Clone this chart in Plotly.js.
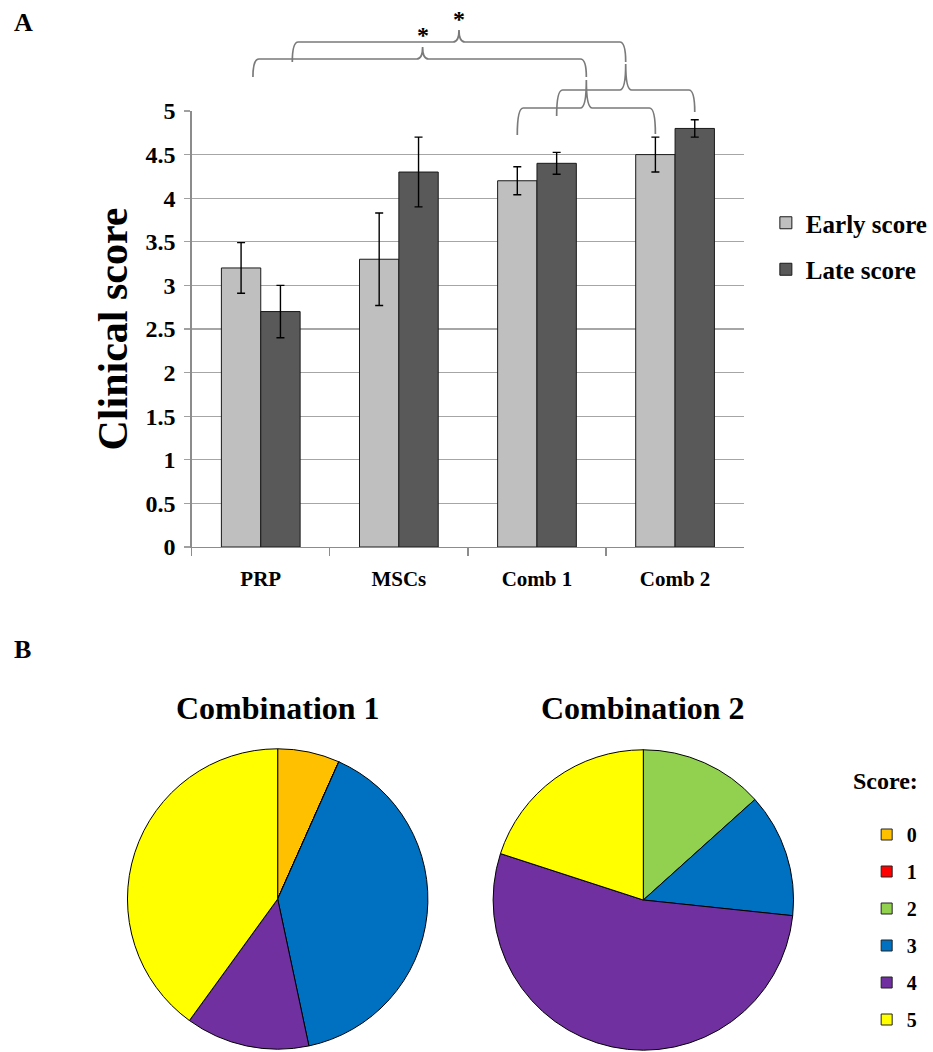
<!DOCTYPE html>
<html>
<head>
<meta charset="utf-8">
<script src="https://cdn.plot.ly/plotly-3.0.1.min.js"></script>
<style>html,body{margin:0;padding:0;background:#fff;}#chart{width:933px;height:1052px;}</style>
</head>
<body>
<div id="chart"></div>
<script>
// ---------- data ----------
const categories = ['PRP', 'MSCs', 'Comb 1', 'Comb 2'];
const earlyScore = [3.2, 3.3, 4.2, 4.5];
const earlyErr   = [0.29, 0.53, 0.16, 0.2];
const lateScore  = [2.7, 4.3, 4.4, 4.8];
const lateErr    = [0.3, 0.4, 0.125, 0.1];
const yTickVals  = [0, 0.5, 1, 1.5, 2, 2.5, 3, 3.5, 4, 4.5, 5];
const yTickText  = ['0', '0.5', '1', '1.5', '2', '2.5', '3', '3.5', '4', '4.5', '5'];
const scoreLabels = ['0', '1', '2', '3', '4', '5'];
const comb1Counts = [1, 0, 0, 6, 2, 6];
const comb2Counts = [0, 0, 2, 2, 8, 3];
const scoreColors = ['#FFC000', '#FF0000', '#92D050', '#0070C0', '#7030A0', '#FFFF00'];
const pieTitles = ['Combination 1', 'Combination 2'];

// ---------- geometry helpers (pixels -> paper) ----------
const W = 933, H = 1052;
const PX = x => x / W;
const PY = y => 1 - y / H;
const plotL = 194, plotR = 753, plotT = 111, plotB = 547;
const catW = (plotR - plotL) / categories.length;
const barW = catW * (1 - 0.43) / 2;
function barCenterPx(cat, series) { return plotL + (cat + 0.5) * catW + (series === 0 ? -barW / 2 : barW / 2); }

const serif = 'Liberation Serif, Times New Roman, serif';
const bold = (size) => ({family: serif, size: size, color: '#000', weight: 'bold'});

// ---------- traces ----------
const traces = [
  {type: 'bar', name: 'Early score', x: categories, y: earlyScore,
   marker: {color: '#BFBFBF', line: {color: '#1a1a1a', width: 1}},
   error_y: {type: 'data', array: earlyErr, visible: true, color: '#000', thickness: 1.4, width: 4},
   legendgroup: 'e'},
  {type: 'bar', name: 'Late score', x: categories, y: lateScore,
   marker: {color: '#595959', line: {color: '#1a1a1a', width: 1}},
   error_y: {type: 'data', array: lateErr, visible: true, color: '#000', thickness: 1.4, width: 4},
   legendgroup: 'l'},
  {type: 'pie', name: pieTitles[0], labels: scoreLabels, values: comb1Counts, sort: false, direction: 'clockwise', rotation: 0,
   marker: {colors: scoreColors, line: {color: '#000', width: 1}}, textinfo: 'none', showlegend: false,
   domain: {x: [PX(129), PX(433)], y: [PY(1051), PY(747)]}},
  {type: 'pie', name: pieTitles[1], labels: scoreLabels, values: comb2Counts, sort: false, direction: 'clockwise', rotation: 0,
   marker: {colors: scoreColors, line: {color: '#000', width: 1}}, textinfo: 'none', showlegend: false,
   domain: {x: [PX(499), PX(803)], y: [PY(1052), PY(748)]}}
];
// legend entries for the pie scores
scoreLabels.forEach((lab, i) => {
  traces.push({type: 'scatter', mode: 'markers', x: [null], y: [null], name: lab,
    marker: {symbol: 'square', size: 11, color: scoreColors[i], line: {color: '#222', width: 1}},
    legend: 'legend2', legendgroup: 's' + i, hoverinfo: 'skip'});
});

// ---------- significance braces ----------
function brace(x1, yb1, x2, yb2, yh, xm, ytip) {
  const r = 6;
  const p = (x, y) => PX(x) + ',' + PY(y);
  return 'M' + p(x1, yb1) + ' Q' + p(x1, yh) + ' ' + p(x1 + r, yh) +
         ' L' + p(xm - r, yh) + ' Q' + p(xm, yh) + ' ' + p(xm, ytip) +
         ' Q' + p(xm, yh) + ' ' + p(xm + r, yh) +
         ' L' + p(x2 - r, yh) + ' Q' + p(x2, yh) + ' ' + p(x2, yb2);
}
const l1x1 = barCenterPx(2, 0), l1x2 = barCenterPx(3, 0), l1m = (l1x1 + l1x2) / 2;
const l2x1 = barCenterPx(2, 1), l2x2 = barCenterPx(3, 1), l2m = (l2x1 + l2x2) / 2;
const u1x1 = barCenterPx(0, 0) + 12, u1m = (u1x1 + l1m) / 2 + 3;
const u2x1 = barCenterPx(0, 1) + 12, u2m = (u2x1 + l2m) / 2;
const braceLine = {color: '#7A7A7A', width: 1.7};
const shapes = [
  {type: 'path', xref: 'paper', yref: 'paper', line: braceLine, path: brace(l1x1, 135, l1x2, 134, 108, l1m, 80)},
  {type: 'path', xref: 'paper', yref: 'paper', line: braceLine, path: brace(l2x1, 116, l2x2, 112, 90, l2m, 64)},
  {type: 'path', xref: 'paper', yref: 'paper', line: braceLine, path: brace(u1x1, 77, l1m, 77, 59, u1m, 47)},
  {type: 'path', xref: 'paper', yref: 'paper', line: braceLine, path: brace(u2x1, 62, l2m, 62, 42, u2m, 30)}
];

const annotations = [
  {text: 'A', x: PX(12), y: PY(22), xref: 'paper', yref: 'paper', xanchor: 'left', yanchor: 'middle', showarrow: false, font: bold(26)},
  {text: 'B', x: PX(12), y: PY(649), xref: 'paper', yref: 'paper', xanchor: 'left', yanchor: 'middle', showarrow: false, font: bold(26)},
  {text: '*', x: PX(u1m), y: PY(35), xref: 'paper', yref: 'paper', xanchor: 'center', yanchor: 'middle', showarrow: false, font: bold(24)},
  {text: '*', x: PX(u2m), y: PY(19), xref: 'paper', yref: 'paper', xanchor: 'center', yanchor: 'middle', showarrow: false, font: bold(24)},
  {text: pieTitles[0], x: PX(281), y: PY(708), xref: 'paper', yref: 'paper', xanchor: 'center', yanchor: 'middle', showarrow: false, font: bold(32)},
  {text: pieTitles[1], x: PX(651), y: PY(708), xref: 'paper', yref: 'paper', xanchor: 'center', yanchor: 'middle', showarrow: false, font: bold(32)},
  {text: 'Score:', x: PX(861), y: PY(781), xref: 'paper', yref: 'paper', xanchor: 'left', yanchor: 'middle', showarrow: false, font: bold(24)}
];

const layout = {
  width: W, height: H, autosize: false,
  margin: {l: 0, r: 0, t: 0, b: 0},
  paper_bgcolor: '#fff', plot_bgcolor: '#fff',
  font: {family: serif, color: '#000'},
  barmode: 'group', bargap: 0.43, bargroupgap: 0,
  xaxis: {domain: [PX(plotL), PX(plotR)], type: 'category', showline: true, linecolor: '#8C8C8C', linewidth: 1.3,
          ticks: 'outside', tickson: 'boundaries', ticklen: 8, tickcolor: '#8C8C8C', tickwidth: 1.3,
          tickfont: bold(21), ticklabelstandoff: 12, showgrid: false, fixedrange: true},
  yaxis: {domain: [PY(plotB), PY(plotT)], range: [0, 5], tickvals: yTickVals, ticktext: yTickText,
          showline: true, linecolor: '#8C8C8C', linewidth: 1.3, ticks: 'outside', ticklen: 6, tickcolor: '#A0A0A0', tickwidth: 1.3,
          showgrid: true, gridcolor: '#A6A6A6', gridwidth: 1.3, zeroline: false, ticklabelstandoff: 4,
          tickfont: bold(24),
          title: {text: 'Clinical score', font: bold(42), standoff: 5}},
  legend: {x: PX(775), y: PY(200), xanchor: 'left', yanchor: 'top', font: bold(25), traceorder: 'grouped', tracegroupgap: 11,
           bgcolor: 'rgba(0,0,0,0)', borderwidth: 0},
  legend2: {x: PX(877), y: PY(815), xanchor: 'left', yanchor: 'top', font: bold(20), traceorder: 'grouped', tracegroupgap: 8,
            bgcolor: 'rgba(0,0,0,0)', borderwidth: 0},
  shapes: shapes,
  annotations: annotations
};

Plotly.newPlot('chart', traces, layout, {displayModeBar: false, staticPlot: true});
</script>
</body>
</html>
